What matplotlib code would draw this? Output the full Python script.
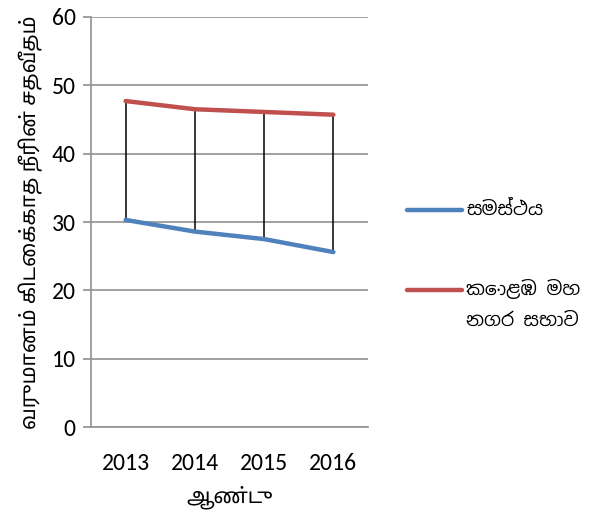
import matplotlib
matplotlib.use('Agg')
import matplotlib.pyplot as plt

# data
years = ['2013', '2014', '2015', '2016']
overall = [30.3, 28.6, 27.5, 25.6]          # සමස්ථය
colombo = [47.7, 46.5, 46.1, 45.7]          # කොළඹ මහ නගර සභාව
y_ticks = [0, 10, 20, 30, 40, 50, 60]

label_overall = 'සමස්ථය'
label_colombo = ['කොළඹ මහ', 'නගර සභාව']
ylabel = 'வருமானம் கிடைக்காத நீரின் சதவீதம்'
xlabel = 'ஆண்டு'

num_font = ['Carlito', 'Liberation Sans', 'DejaVu Sans']
tamil_font = ['Noto Sans Tamil', 'DejaVu Sans']
sinhala_font = ['Noto Sans Sinhala', 'DejaVu Sans']

fig = plt.figure(figsize=(5.89, 5.13), dpi=100)
ax = fig.add_axes([0.1545, 0.1676, 0.4703, 0.7993])

x = list(range(len(years)))
blue = '#4F81BD'
red = '#C0504D'
grid_c = '#989898'

# hi-lo lines between the two series
ax.vlines(x, overall, colombo, color='black', lw=1.1, zorder=3)
ax.plot(x, overall, color=blue, lw=3.2, solid_capstyle='round', zorder=4)
ax.plot(x, colombo, color=red, lw=3.2, solid_capstyle='round', zorder=4)

ax.set_xlim(-0.5, len(years) - 0.5)
ax.set_ylim(0, 60)
ax.set_yticks(y_ticks)
ax.set_xticks(x)
ax.set_xticklabels(years, fontfamily=num_font, fontsize=17)
ax.set_yticklabels([str(v) for v in y_ticks], fontfamily=num_font, fontsize=17)
ax.yaxis.grid(True, color=grid_c, lw=1.3)
ax.set_axisbelow(True)

for side in ['top', 'right']:
    ax.spines[side].set_visible(False)
ax.spines['left'].set_color(grid_c)
ax.spines['left'].set_linewidth(1.3)
ax.spines['bottom'].set_color(grid_c)
ax.spines['bottom'].set_linewidth(1.3)
ax.tick_params(axis='y', color=grid_c, width=1.3, length=6, pad=5)
ax.tick_params(axis='x', length=0, pad=19)

ax.set_ylabel(ylabel, fontfamily=tamil_font, fontsize=15, fontweight='bold', labelpad=6)
ax.set_xlabel(xlabel, fontfamily=tamil_font, fontsize=15, fontweight='bold', labelpad=8)

# legend entries at the right
fig.add_artist(plt.Line2D([407 / 589, 462 / 589], [1 - 210 / 513] * 2, color=blue, lw=3.2,
                          solid_capstyle='round'))
fig.add_artist(plt.Line2D([407 / 589, 462 / 589], [1 - 290 / 513] * 2, color=red, lw=3.2,
                          solid_capstyle='round'))
fig.text(466 / 589, 1 - 210 / 513, label_overall, fontfamily=sinhala_font, fontsize=13.5,
         fontweight='bold', va='center', ha='left')
for i, line in enumerate(label_colombo):
    fig.text(466 / 589, 1 - (289 + 32 * i) / 513, line, fontfamily=sinhala_font, fontsize=13.5,
             fontweight='bold', va='center', ha='left')

fig.savefig('out.png', dpi=100)
